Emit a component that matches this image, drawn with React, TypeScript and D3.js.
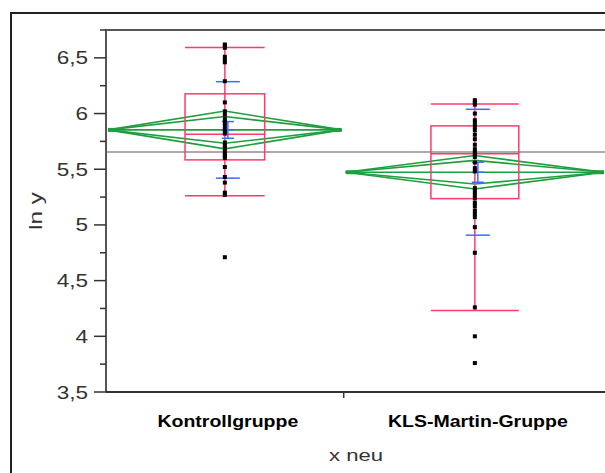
import React, { useEffect, useRef } from "react";
import * as d3 from "d3";

// groups and their sample sizes (group widths are proportional to n)
const groups = ["Kontrollgruppe", "KLS-Martin-Gruppe"];
const groupN = [29, 32];

const kontrollValues = [
  6.62, 6.61, 6.59, 6.51, 6.48, 6.46, 6.29, 6.1, 6.02, 5.99, 5.95, 5.92, 5.89, 5.86, 5.84,
  5.82, 5.74, 5.71, 5.69, 5.66, 5.64, 5.62, 5.6, 5.52, 5.43, 5.38, 5.29, 5.27, 4.71,
];
const klsValues = [
  6.12, 6.1, 6.08, 6.0, 5.94, 5.91, 5.88, 5.85, 5.81, 5.77, 5.72, 5.68, 5.65, 5.63, 5.61, 5.56,
  5.51, 5.48, 5.33, 5.3, 5.27, 5.24, 5.2, 5.17, 5.13, 5.1, 5.07, 4.98, 4.75, 4.26, 4.0, 3.76,
];

// summary stats per group (box plot, means diamond, error bars)
const q1 = [5.584, 5.236];
const median = [5.815, 5.638];
const q3 = [6.177, 5.889];
const whiskerLow = [5.263, 4.232];
const whiskerHigh = [6.594, 6.085];
const means = [5.853, 5.473];
const stdErr = [0.075, 0.09];
const stdDev = [0.433, 0.565];
const ci95 = [0.17, 0.15];
const grandMean = 5.655;

const yTicks = [3.5, 4, 4.5, 5, 5.5, 6, 6.5];
const yMinor = [3.75, 4.25, 4.75, 5.25, 5.75, 6.25, 6.75];

const PINK = "#ff3b6b";
const GREEN = "#1f9e3d";
const BLUE = "#3b6cff";

export default function App() {
  const ref = useRef<SVGSVGElement>(null);

  useEffect(() => {
    document.body.style.margin = "0";
    document.body.style.overflow = "hidden";
    const svg = d3.select(ref.current);
    svg.selectAll("*").remove();

    var left = 106,
      right = 606,
      top = 30,
      bottom = 392;

    var y = d3.scaleLinear().domain([3.5, 6.75]).range([bottom, top]);
    var total = d3.sum(groupN);
    var x = d3.scaleLinear().domain([0, total]).range([left, right]);
    var starts = groupN.map((n, i) => d3.sum(groupN.slice(0, i)));
    var bands = groups.map((g, i) => ({
      x0: x(starts[i]),
      x1: x(starts[i] + groupN[i]),
      cx: x(starts[i] + groupN[i] / 2),
    }));
    var values = [kontrollValues, klsValues];

    // outer frame (right/bottom edges fall outside the picture)
    svg
      .append("path")
      .attr("d", "M 11 480 L 11 13 L 620 13")
      .attr("fill", "none")
      .attr("stroke", "#222")
      .attr("stroke-width", 2);

    // grand mean
    svg
      .append("line")
      .attr("x1", left)
      .attr("x2", 605)
      .attr("y1", y(grandMean))
      .attr("y2", y(grandMean))
      .attr("stroke", "#8f8f8f")
      .attr("stroke-width", 1.5);

    // means diamonds + overlap marks
    bands.forEach((b, i) => {
      var m = means[i];
      [ci95[i], ci95[i] * Math.SQRT1_2].forEach((h) => {
        svg
          .append("path")
          .attr(
            "d",
            `M ${b.x0 + 2} ${y(m)} L ${b.cx} ${y(m + h)} L ${b.x1 - 2} ${y(m)} L ${b.cx} ${y(m - h)} Z`
          )
          .attr("fill", "none")
          .attr("stroke", GREEN)
          .attr("stroke-width", 1.6);
      });
      svg
        .append("line")
        .attr("x1", b.x0 + 2)
        .attr("x2", b.x1 - 2)
        .attr("y1", y(m))
        .attr("y2", y(m))
        .attr("stroke", GREEN)
        .attr("stroke-width", 1.6);
      // tip blobs
      [b.x0 + 2, b.x1 - 2].forEach((tx, k) => {
        svg
          .append("rect")
          .attr("x", k == 0 ? tx : tx - 10)
          .attr("y", y(m) - 2)
          .attr("width", 10)
          .attr("height", 4)
          .attr("fill", GREEN);
      });
    });

    // box plots
    bands.forEach((b, i) => {
      var bw = (b.x1 - b.x0) * 0.335;
      svg
        .append("line")
        .attr("x1", b.cx)
        .attr("x2", b.cx)
        .attr("y1", y(whiskerLow[i]))
        .attr("y2", y(whiskerHigh[i]))
        .attr("stroke", PINK)
        .attr("stroke-width", 1.5);
      [whiskerLow[i], whiskerHigh[i]].forEach((v) => {
        svg
          .append("line")
          .attr("x1", b.cx - bw / 2)
          .attr("x2", b.cx + bw / 2)
          .attr("y1", y(v))
          .attr("y2", y(v))
          .attr("stroke", PINK)
          .attr("stroke-width", 1.5);
      });
      svg
        .append("rect")
        .attr("x", b.cx - bw / 2)
        .attr("y", y(q3[i]))
        .attr("width", bw)
        .attr("height", y(q1[i]) - y(q3[i]))
        .attr("fill", "none")
        .attr("stroke", PINK)
        .attr("stroke-width", 1.5);
      svg
        .append("line")
        .attr("x1", b.cx - bw / 2)
        .attr("x2", b.cx + bw / 2)
        .attr("y1", y(median[i]))
        .attr("y2", y(median[i]))
        .attr("stroke", PINK)
        .attr("stroke-width", 1.5);
    });

    // std dev lines and mean error bars
    bands.forEach((b, i) => {
      var bx = b.cx + 3;
      [means[i] - stdDev[i], means[i] + stdDev[i]].forEach((v) => {
        svg
          .append("line")
          .attr("x1", bx - 12)
          .attr("x2", bx + 12)
          .attr("y1", y(v))
          .attr("y2", y(v))
          .attr("stroke", BLUE)
          .attr("stroke-width", 1.5);
      });
      svg
        .append("line")
        .attr("x1", bx)
        .attr("x2", bx)
        .attr("y1", y(means[i] - stdErr[i]))
        .attr("y2", y(means[i] + stdErr[i]))
        .attr("stroke", BLUE)
        .attr("stroke-width", 1.5);
      [means[i] - stdErr[i], means[i], means[i] + stdErr[i]].forEach((v) => {
        svg
          .append("line")
          .attr("x1", bx - 6)
          .attr("x2", bx + 6)
          .attr("y1", y(v))
          .attr("y2", y(v))
          .attr("stroke", BLUE)
          .attr("stroke-width", 1.5);
      });
    });

    // points
    bands.forEach((b, i) => {
      svg
        .append("g")
        .selectAll("rect")
        .data(values[i])
        .enter()
        .append("rect")
        .attr("x", b.cx - 2)
        .attr("y", (d) => y(d) - 2)
        .attr("width", 4)
        .attr("height", 4)
        .attr("fill", "#000");
    });

    // plot frame
    svg
      .append("path")
      .attr("d", `M ${left} ${bottom} L ${left} ${top} L 620 ${top}`)
      .attr("fill", "none")
      .attr("stroke", "#555")
      .attr("stroke-width", 2);
    svg
      .append("line")
      .attr("x1", left)
      .attr("x2", 620)
      .attr("y1", bottom)
      .attr("y2", bottom)
      .attr("stroke", "#333")
      .attr("stroke-width", 2);

    // y axis ticks
    var tickG = svg.append("g");
    yTicks.forEach((t) => {
      tickG
        .append("line")
        .attr("x1", left - 12)
        .attr("x2", left)
        .attr("y1", y(t))
        .attr("y2", y(t))
        .attr("stroke", "#333")
        .attr("stroke-width", 1.5);
      tickG
        .append("text")
        .attr("transform", `translate(88,${y(t) + 6.5}) scale(1.25,1)`)
        .attr("text-anchor", "end")
        .attr("font-family", "'Liberation Sans', Arial, sans-serif")
        .attr("font-size", 18)
        .attr("fill", "#333")
        .text(String(t).replace(".", ","));
    });
    yMinor.forEach((t) => {
      tickG
        .append("line")
        .attr("x1", left - 6)
        .attr("x2", left)
        .attr("y1", y(t))
        .attr("y2", y(t))
        .attr("stroke", "#333")
        .attr("stroke-width", 1.5);
    });

    // x axis: tick between groups
    svg
      .append("line")
      .attr("x1", bands[0].x1)
      .attr("x2", bands[0].x1)
      .attr("y1", bottom)
      .attr("y2", bottom + 6)
      .attr("stroke", "#333")
      .attr("stroke-width", 1.5);

    bands.forEach((b, i) => {
      svg
        .append("text")
        .attr("transform", `translate(${b.cx + 3},427) scale(1.22,1)`)
        .attr("text-anchor", "middle")
        .attr("font-family", "'Liberation Sans', Arial, sans-serif")
        .attr("font-size", 16)
        .attr("font-weight", "bold")
        .attr("fill", "#000")
        .text(groups[i]);
    });

    svg
      .append("text")
      .attr("transform", `translate(${(left + right) / 2},461) scale(1.3,1)`)
      .attr("text-anchor", "middle")
      .attr("font-family", "'Liberation Sans', Arial, sans-serif")
      .attr("font-size", 17)
      .attr("fill", "#333")
      .text("x neu");

    svg
      .append("text")
      .attr("transform", `translate(42,${(top + bottom) / 2}) rotate(-90) scale(1.35,1)`)
      .attr("text-anchor", "middle")
      .attr("font-family", "'Liberation Sans', Arial, sans-serif")
      .attr("font-size", 18)
      .attr("fill", "#333")
      .text("ln y");
  }, []);

  return (
    <svg
      ref={ref}
      width={605}
      height={473}
      style={{ position: "absolute", left: 0, top: 0, background: "#fff", overflow: "hidden" }}
    />
  );
}
